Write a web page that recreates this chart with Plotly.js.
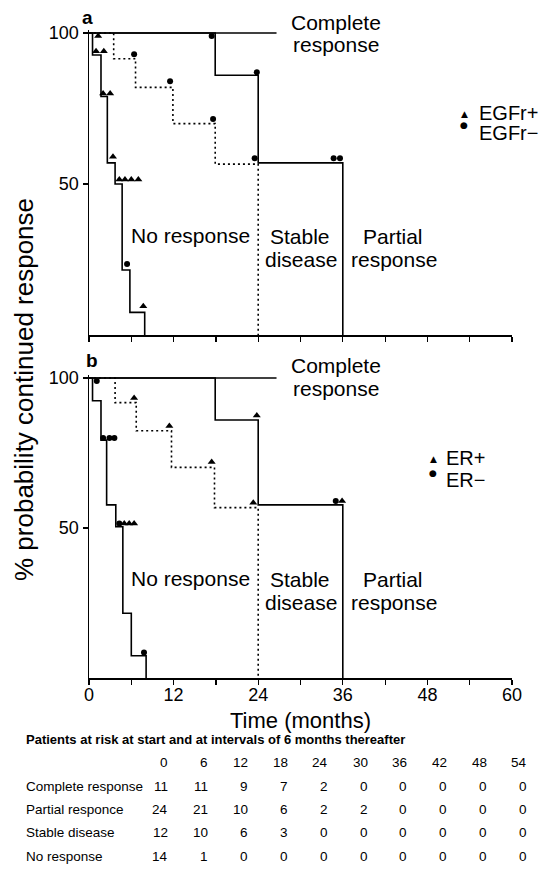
<!DOCTYPE html>
<html>
<head>
<meta charset="utf-8">
<script src="https://cdn.plot.ly/plotly-3.0.1.min.js"></script>
<style>html,body{margin:0;padding:0;background:#fff;}#chart{width:545px;height:877px;}</style>
</head>
<body>
<div id="chart"></div>
<script>
// ---------- DATA ----------
// Panel a (EGFr) Kaplan-Meier step curves: times (months) and % probability
const aCompleteT = [0, 26.6];
const aCompleteS = [100, 100];
const aPartialT  = [0, 17.9, 24, 36];
const aPartialS  = [100, 86, 57, 0];
const aStableT   = [0, 3.5, 6.6, 11.9, 17.9, 24];
const aStableS   = [100, 91.5, 82, 70, 56.6, 0];
const aNoneT     = [0, 0.5, 1.7, 2.6, 3.7, 4.7, 5.8, 7.9];
const aNoneS     = [100, 92.7, 79, 57, 50, 21.5, 7.5, 0];
// Panel a censored marks
const aPosT = [1.3, 1.0, 2.1, 2.0, 3.0, 3.4, 4.3, 5.1, 6.0, 7.0, 7.7];   // EGFr+
const aPosS = [99, 94, 94, 80, 80, 59, 51.5, 51.5, 51.5, 51.5, 9.5];
const aNegT = [5.4, 6.4, 11.5, 17.6, 17.4, 23.8, 23.5, 34.7, 35.6];     // EGFr-
const aNegS = [23.5, 93, 84, 71.5, 99, 87, 58.5, 58.5, 58.5];

// Panel b (ER)
const bCompleteT = [0, 26.6];
const bCompleteS = [100, 100];
const bPartialT  = [0, 17.9, 24, 36];
const bPartialS  = [100, 86, 57.7, 0];
const bStableT   = [0, 3.7, 6.7, 11.7, 17.8, 24];
const bStableS   = [100, 91.8, 82.4, 70.2, 56.8, 0];
const bNoneT     = [0, 0.5, 1.7, 2.5, 3.8, 4.8, 6.0, 8.1];
const bNoneS     = [100, 92.4, 79.3, 57.7, 50.4, 21.6, 7.4, 0];
// Panel b censored marks
const bPosT = [5.0, 5.7, 6.4, 6.4, 11.4, 17.4, 23.3, 23.8, 35.9];       // ER+
const bPosS = [51.5, 51.5, 51.5, 93.3, 84, 72, 58.4, 87.5, 59];
const bNegT = [1.1, 2.0, 2.9, 3.6, 4.3, 7.8, 35.0];                    // ER-
const bNegS = [99, 80, 80, 80, 51.5, 8.5, 59];

// Patients-at-risk table
const riskTimes = [0, 6, 12, 18, 24, 30, 36, 42, 48, 54];
const riskGroups = ['Complete response', 'Partial responce', 'Stable disease', 'No response'];
const riskComplete = [11, 11, 9, 7, 2, 0, 0, 0, 0, 0];
const riskPartial  = [24, 21, 10, 6, 2, 2, 0, 0, 0, 0];
const riskStable   = [12, 10, 6, 3, 0, 0, 0, 0, 0, 0];
const riskNone     = [14, 1, 0, 0, 0, 0, 0, 0, 0, 0];

const xTickVals = [0, 6, 12, 18, 24, 30, 36, 42, 48, 54, 60];
const xTickText = ['0', '', '12', '', '24', '', '36', '', '48', '', '60'];

// ---------- BUILD ----------
const W = 545, H = 877;
const FONT = 'Liberation Sans, Arial, sans-serif';
const px = v => v / W;
const py = v => 1 - v / H;

function stepTrace(t, s, xa, ya, dotted) {
  return {
    x: t, y: s, xaxis: xa, yaxis: ya, type: 'scatter', mode: 'lines',
    line: {shape: 'hv', color: '#000', width: 1.6, dash: dotted ? '2px,3px' : 'solid'},
    hoverinfo: 'skip', showlegend: false
  };
}
function markTrace(t, s, xa, ya, sym) {
  return {
    x: t, y: s, xaxis: xa, yaxis: ya, type: 'scatter', mode: 'markers',
    marker: {symbol: sym, color: '#000', size: sym === 'circle' ? 6 : 7},
    cliponaxis: false, hoverinfo: 'skip', showlegend: false
  };
}

const data = [
  stepTrace(aCompleteT, aCompleteS, 'x', 'y', false),
  stepTrace(aPartialT, aPartialS, 'x', 'y', false),
  stepTrace(aStableT, aStableS, 'x', 'y', true),
  stepTrace(aNoneT, aNoneS, 'x', 'y', false),
  markTrace(aPosT, aPosS, 'x', 'y', 'triangle-up'),
  markTrace(aNegT, aNegS, 'x', 'y', 'circle'),
  stepTrace(bCompleteT, bCompleteS, 'x2', 'y2', false),
  stepTrace(bPartialT, bPartialS, 'x2', 'y2', false),
  stepTrace(bStableT, bStableS, 'x2', 'y2', true),
  stepTrace(bNoneT, bNoneS, 'x2', 'y2', false),
  markTrace(bPosT, bPosS, 'x2', 'y2', 'triangle-up'),
  markTrace(bNegT, bNegS, 'x2', 'y2', 'circle')
];

const xDomain = [px(89), px(512)];
const axisCommon = {
  showline: true, linecolor: '#000', linewidth: 1.5, showgrid: false, zeroline: false,
  ticks: 'outside', ticklen: 5, tickwidth: 1.2, tickcolor: '#000',
  tickfont: {family: FONT, size: 18, color: '#000'}, fixedrange: true
};

const annotations = [];
function ann(o) {
  annotations.push(Object.assign({showarrow: false, xref: 'paper', yref: 'paper', xanchor: 'center', yanchor: 'middle',
    font: {family: FONT, size: 21, color: '#000'}}, o));
}

// panel letters
ann({x: px(87), y: py(17), text: '<b>a</b>', font: {family: FONT, size: 19, color: '#000'}});
ann({x: px(92), y: py(361), text: '<b>b</b>', font: {family: FONT, size: 19, color: '#000'}});

// region labels (pixel positions) for both panels; panel b offset by 343 px
[0, 343].forEach(off => {
  ann({x: px(336), y: py(23 + off), text: 'Complete'});
  ann({x: px(336), y: py(45 + off), text: 'response'});
  ann({x: px(190), y: py(235 + off), text: 'No response'});
  ann({x: px(300), y: py(236 + off), text: 'Stable'});
  ann({x: px(301), y: py(259 + off), text: 'disease'});
  ann({x: px(393), y: py(236 + off), text: 'Partial'});
  ann({x: px(394), y: py(259 + off), text: 'response'});
});

// legends
const LF = {family: FONT, size: 20, color: '#000'};
const SF = {family: 'DejaVu Sans', size: 9, color: '#000'};
ann({x: px(464), y: py(114), text: '▲', font: SF});
ann({x: px(477), y: py(113), xanchor: 'left', text: 'EGFr+', font: LF});
ann({x: px(464), y: py(125), text: '●', font: SF});
ann({x: px(477), y: py(133), xanchor: 'left', text: 'EGFr\u2212', font: LF});
ann({x: px(433), y: py(459), text: '▲', font: SF});
ann({x: px(444), y: py(458), xanchor: 'left', text: 'ER+', font: LF});
ann({x: px(433), y: py(473), text: '●', font: SF});
ann({x: px(444), y: py(480), xanchor: 'left', text: 'ER\u2212', font: LF});

// y title
ann({x: px(24), y: py(390), textangle: -90, text: '% probability continued response', font: {family: FONT, size: 26, color: '#000'}});

// time title
ann({x: px(300), y: py(720), text: 'Time (months)', font: {family: FONT, size: 22, color: '#000'}});

// table
const TF = {family: FONT, size: 13.5, color: '#000'};
ann({x: px(24), y: py(739), xanchor: 'left', text: '<b>Patients at risk at start and at intervals of 6 months thereafter</b>', font: {family: FONT, size: 13, color: '#000'}});
const colRight = i => 170 + 39.9 * i;
riskTimes.forEach((t, i) => ann({x: px(colRight(i)), y: py(762), xanchor: 'right', text: String(t), font: TF}));
const rows = [riskComplete, riskPartial, riskStable, riskNone];
const rowY = [786, 809, 832, 856];
rows.forEach((vals, r) => {
  ann({x: px(24), y: py(rowY[r]), xanchor: 'left', text: riskGroups[r], font: TF});
  vals.forEach((v, i) => ann({x: px(colRight(i)), y: py(rowY[r]), xanchor: 'right', text: String(v), font: TF}));
});

const layout = {
  width: W, height: H, margin: {l: 0, r: 0, t: 0, b: 0},
  paper_bgcolor: '#fff', plot_bgcolor: '#fff', showlegend: false,
  font: {family: FONT, color: '#000'},
  xaxis: Object.assign({}, axisCommon, {domain: xDomain, range: [0, 60], anchor: 'y', tickvals: xTickVals, showticklabels: false}),
  yaxis: Object.assign({}, axisCommon, {domain: [py(335), py(30)], range: [0, 101], anchor: 'x', tickvals: [50, 100]}),
  xaxis2: Object.assign({}, axisCommon, {domain: xDomain, range: [0, 60], anchor: 'y2', tickvals: xTickVals, ticktext: xTickText,
    ticklabelstandoff: -5}),
  yaxis2: Object.assign({}, axisCommon, {domain: [py(678), py(375)], range: [0, 101], anchor: 'x2', tickvals: [50, 100]}),
  annotations: annotations
};

Plotly.newPlot('chart', data, layout, {staticPlot: true, displayModeBar: false});
</script>
</body>
</html>
